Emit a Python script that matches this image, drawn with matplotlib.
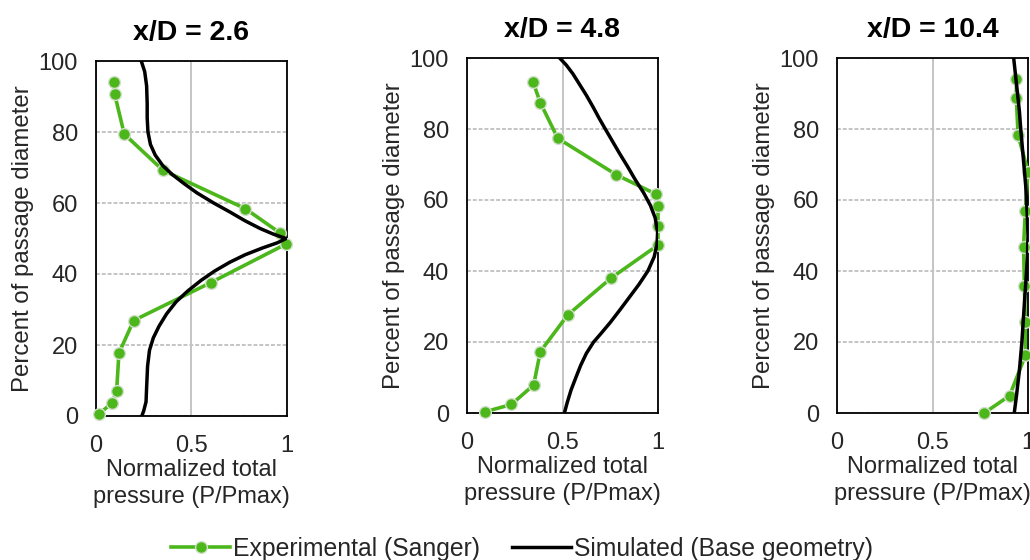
"""Total pressure profiles at three x/D stations, experiment vs. simulation."""

import matplotlib
matplotlib.use("Agg")
import matplotlib.pyplot as plt
from matplotlib.lines import Line2D

plt.rcParams["font.family"] = ["Liberation Sans", "DejaVu Sans"]

TEXT = "#262626"
GREEN = "#4cb71b"
GRID = "#c4c4c4"

# ---------------------------------------------------------------------------
# Data
# ---------------------------------------------------------------------------
TITLES = ["x/D = 2.6", "x/D = 4.8", "x/D = 10.4"]

exp_x_26 = [0.092, 0.098, 0.148, 0.351, 0.782, 0.965, 0.997, 0.602, 0.197, 0.120, 0.108, 0.084, 0.017]
exp_y_26 = [94.0, 90.6, 79.4, 69.2, 58.4, 51.5, 48.5, 37.6, 26.9, 17.7, 7.0, 3.6, 0.7]

sim_x_26 = [0.237, 0.255, 0.265, 0.268, 0.268, 0.272, 0.285, 0.31, 0.35, 0.40, 0.46, 0.53,
            0.616, 0.70, 0.78, 0.86, 0.93, 0.995, 0.95, 0.87, 0.78, 0.70, 0.62, 0.55,
            0.48, 0.42, 0.37, 0.33, 0.30, 0.28, 0.27, 0.265, 0.262, 0.25, 0.24]
sim_y_26 = [100, 97, 93, 88, 84, 80, 76.5, 73.5, 70.5, 68, 65.5, 62.8,
            60, 57.5, 55, 52.8, 51.2, 50, 48.8, 47.3, 45.4, 43.3, 40.8, 38.2,
            35.2, 32.2, 28.8, 25.3, 22, 18.5, 14, 8, 4, 1.5, 0]

exp_x_48 = [0.346, 0.384, 0.475, 0.782, 0.991, 1.0, 1.0, 1.0, 0.754, 0.527, 0.384, 0.349, 0.232, 0.092]
exp_y_48 = [93.2, 87.4, 77.4, 67.1, 61.6, 58.2, 52.7, 47.3, 38.0, 27.6, 17.3, 7.9, 2.4, 0.3]

sim_x_48 = [0.485, 0.52, 0.555, 0.59, 0.625, 0.66, 0.69, 0.724, 0.76, 0.80, 0.84, 0.88,
            0.925, 0.96, 0.985, 0.998, 0.995, 0.98, 0.947, 0.90, 0.85, 0.80, 0.75,
            0.70, 0.663, 0.625, 0.595, 0.57, 0.545, 0.525, 0.51]
sim_y_48 = [100, 98, 95.5, 92.5, 89.5, 86.2, 83.2, 80, 76.7, 73, 69.5, 65.8,
            62, 58.5, 55, 51, 47.5, 44, 40, 36.2, 32.6, 29, 25.5,
            22.3, 20, 16.8, 13.4, 10, 6.5, 3, 0]

exp_x_104 = [0.939, 0.939, 0.948, 1.0, 0.986, 0.977, 0.981, 0.986, 0.986, 0.904, 0.771]
exp_y_104 = [94.2, 88.7, 78.3, 68.0, 57.0, 46.9, 35.8, 25.6, 16.2, 4.9, 0.0]

sim_x_104 = [0.925, 0.935, 0.945, 0.955, 0.962, 0.975, 0.988, 0.996, 1.0, 0.997,
             0.99, 0.98, 0.968, 0.955, 0.94, 0.928]
sim_y_104 = [100, 95, 90, 85, 80, 72, 64, 56, 50, 44, 38, 30, 20, 12, 5, 0]

EXP = [(exp_x_26, exp_y_26), (exp_x_48, exp_y_48), (exp_x_104, exp_y_104)]
SIM = [(sim_x_26, sim_y_26), (sim_x_48, sim_y_48), (sim_x_104, sim_y_104)]

X_TICKS = [0, 0.5, 1]
X_TICK_LABELS = ["0", "0.5", "1"]
Y_TICKS = [0, 20, 40, 60, 80, 100]

# ---------------------------------------------------------------------------
# Figure
# ---------------------------------------------------------------------------
fig = plt.figure(figsize=(10.3, 5.6), dpi=100)

lefts = [96 / 1030, 467 / 1030, 837 / 1030]
bottoms = [144 / 560, 147 / 560, 147 / 560]
w, h = 191 / 1030, 355 / 560

exp_style = dict(color=GREEN, lw=2.6, marker="o", markersize=8.5,
                 markerfacecolor=GREEN, markeredgecolor="#d3dfcc",
                 markeredgewidth=1.0, zorder=3, clip_on=False)
sim_style = dict(color="black", lw=2.5, zorder=4)

for i in range(3):
    ax = fig.add_axes([lefts[i], bottoms[i], w, h])
    ex, ey = EXP[i]
    sx, sy = SIM[i]
    ax.plot(ex, ey, **exp_style)
    ax.plot(sx, sy, **sim_style)

    ax.set_xlim(0, 1)
    ax.set_ylim(0, 100)
    ax.set_xticks(X_TICKS)
    ax.set_xticklabels(X_TICK_LABELS)
    ax.set_yticks(Y_TICKS)
    ax.tick_params(length=0, labelsize=17, colors=TEXT)
    ax.tick_params(axis="x", pad=14)
    ax.tick_params(axis="y", pad=13)

    ax.grid(axis="y", color=GRID, lw=1.4, ls=(0, (2, 1)), zorder=0)
    ax.grid(axis="x", color=GRID, lw=1.4, zorder=0)
    ax.set_axisbelow(True)
    for sp in ax.spines.values():
        sp.set_color("black")
        sp.set_linewidth(1.3)

    ax.set_title(TITLES[i], fontsize=20.5, fontweight="bold", color="black", pad=15)
    ax.set_xlabel("Normalized total\npressure (P/Pmax)", fontsize=17,
                  color=TEXT, labelpad=1, linespacing=1.3)
    ax.set_ylabel("Percent of passage diameter", fontsize=17.3, color=TEXT, labelpad=3)

handles = [
    Line2D([0], [0], color=GREEN, lw=2.6, marker="o", markersize=8.5,
           markerfacecolor=GREEN, markeredgecolor="#d3dfcc", markeredgewidth=1.0),
    Line2D([0], [0], color="black", lw=2.5),
]
fig.legend(handles, ["Experimental (Sanger)", "Simulated (Base geometry)"],
           loc="center", bbox_to_anchor=(522 / 1030, 1 - 549 / 560), ncol=2,
           frameon=False, fontsize=17.8, handlelength=2.4, handletextpad=0.1,
           columnspacing=1.3, labelcolor=TEXT)

fig.savefig("out.png", dpi=100)
